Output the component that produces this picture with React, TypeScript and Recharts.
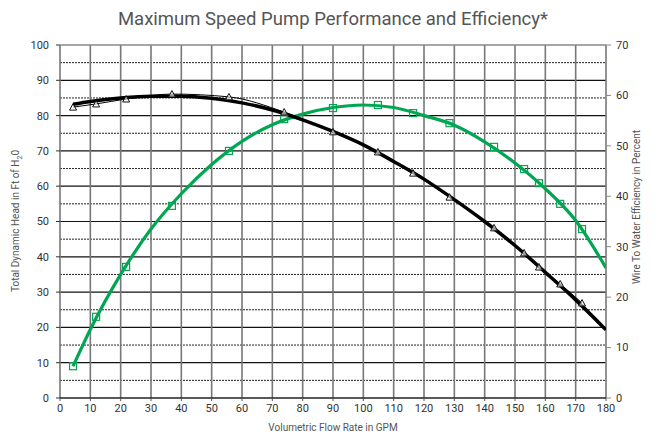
import { ComposedChart, Line, Scatter, XAxis, YAxis, ReferenceLine, Label } from "recharts";

// measured test points
const flowGpm = [4.3, 11.9, 21.8, 36.9, 55.7, 73.9, 90, 104.8, 116.4, 128.4, 143.1, 153, 157.9, 164.9, 172.1];
const headFt = [82.4, 83.3, 84.7, 86.1, 85.3, 81.0, 75.4, 69.7, 63.7, 56.9, 48.2, 41.1, 37.1, 32.3, 26.9];
const efficiencyPct = [6.3, 16.1, 26.0, 38.1, 49.0, 55.3, 57.5, 58.1, 56.5, 54.5, 49.8, 45.4, 42.6, 38.5, 33.5];

// fitted trend curves
const curveFlow = [4.3, 10, 20, 30, 40, 50, 60, 70, 80, 90, 100, 110, 120, 130, 140, 150, 160, 170, 180];
const headCurve = [83.2, 84.0, 85.0, 85.5, 85.5, 84.9, 83.6, 81.6, 78.8, 75.5, 71.7, 67.0, 62.0, 56.2, 50.0, 43.2, 35.6, 27.8, 19.3];
const effCurve = [6.3, 13.6, 24.5, 33.5, 40.5, 46.3, 50.9, 54.2, 56.3, 57.6, 58.1, 57.6, 56.0, 54.1, 50.8, 46.6, 41.5, 35.2, 25.8];

const xTicks = [0, 10, 20, 30, 40, 50, 60, 70, 80, 90, 100, 110, 120, 130, 140, 150, 160, 170, 180];
const headTicks = [0, 10, 20, 30, 40, 50, 60, 70, 80, 90, 100];
const headMinor = [5, 15, 25, 35, 45, 55, 65, 75, 85, 95];
const effTicks = [0, 10, 20, 30, 40, 50, 60, 70];

const GREEN = "#00a651";
const FONT = "Roboto, 'Open Sans', sans-serif";

const headPoints = flowGpm.map((x, i) => ({ x, y: headFt[i] }));
const effPoints = flowGpm.map((x, i) => ({ x, y: efficiencyPct[i] }));
const headLine = curveFlow.map((x, i) => ({ x, y: headCurve[i] }));
const effLine = curveFlow.map((x, i) => ({ x, y: effCurve[i] }));

const Triangle = (props: any) => {
  const { cx, cy } = props;
  return (
    <polygon
      points={`${cx - 3.5},${cy + 3} ${cx + 3.5},${cy + 3} ${cx},${cy - 3.5}`}
      fill="#fff"
      fillOpacity={0.6}
      stroke="#111"
      strokeWidth={1}
    />
  );
};

const Square = (props: any) => {
  const { cx, cy } = props;
  return <rect x={cx - 3.5} y={cy - 3.5} width={7} height={7} fill="none" stroke={GREEN} strokeWidth={1.2} />;
};

const tickStyle = { fill: "#333", fontSize: 11, fontFamily: FONT };

export default function App() {
  return (
    <div style={{ position: "absolute", left: 0, top: 0, width: 661, height: 435, background: "#fff" }}>
      <ComposedChart width={661} height={435} margin={{ top: 45, right: 0, bottom: 0, left: 0 }}>
        <text x={333} y={25} textAnchor="middle" fontFamily={FONT} fontSize={18.5} fill="#555">
          Maximum Speed Pump Performance and Efficiency*
        </text>
        <XAxis
          type="number"
          dataKey="x"
          domain={[0, 180]}
          ticks={xTicks}
          allowDataOverflow
          height={37}
          tickSize={3}
          tickMargin={3}
          tick={tickStyle}
          axisLine={false}
          tickLine={{ stroke: "#555" }}
        >
          <Label
            content={() => (
              <text x={333} y={431} textAnchor="middle" fontFamily={FONT} fontSize={10} fill="#555">
                Volumetric Flow Rate in GPM
              </text>
            )}
          />
        </XAxis>
        <YAxis
          yAxisId="head"
          type="number"
          domain={[0, 100]}
          ticks={headTicks}
          width={60}
          tickSize={4}
          tickMargin={7}
          tick={tickStyle}
          axisLine={false}
          tickLine={{ stroke: "#333" }}
        >
          <Label
            content={() => (
              <text
                x={19}
                y={221}
                transform="rotate(-90 19 221)"
                textAnchor="middle"
                fontFamily={FONT}
                fontSize={10}
                fill="#555"
              >
                Total Dynamic Head in Ft of H
                <tspan dy={3} fontSize={7}>2</tspan>
                <tspan dy={-3}>0</tspan>
              </text>
            )}
          />
        </YAxis>
        <YAxis
          yAxisId="eff"
          orientation="right"
          type="number"
          domain={[0, 70]}
          ticks={effTicks}
          width={55}
          tickSize={5}
          tickMargin={5}
          tick={tickStyle}
          axisLine={false}
          tickLine={{ stroke: "#888" }}
        >
          <Label
            content={() => (
              <text
                x={640}
                y={207}
                transform="rotate(-90 640 207)"
                textAnchor="middle"
                fontFamily={FONT}
                fontSize={10}
                fill="#555"
              >
                Wire To Water Efficiency in Percent
              </text>
            )}
          />
        </YAxis>

        {headMinor.map((v) => (
          <ReferenceLine key={`m${v}`} yAxisId="head" y={v} stroke="#222" strokeWidth={1} strokeDasharray="2 1" />
        ))}
        {headTicks.slice(1, -1).map((v) => (
          <ReferenceLine key={`h${v}`} yAxisId="head" y={v} stroke="#111" strokeWidth={1.2} />
        ))}
        {xTicks.map((v) => (
          <ReferenceLine key={`v${v}`} yAxisId="head" x={v} stroke="#777" strokeWidth={1.6} />
        ))}
        <ReferenceLine yAxisId="head" y={100} stroke="#888" strokeWidth={1.6} />
        <ReferenceLine yAxisId="head" y={0} stroke="#222" strokeWidth={1.4} />

        <Line
          data={effLine}
          yAxisId="eff"
          dataKey="y"
          type="monotone"
          stroke={GREEN}
          strokeWidth={3.2}
          dot={false}
          isAnimationActive={false}
        />
        <Line
          data={headLine}
          yAxisId="head"
          dataKey="y"
          type="monotone"
          stroke="#000"
          strokeWidth={3.5}
          dot={false}
          isAnimationActive={false}
        />
        <Line
          data={headPoints}
          yAxisId="head"
          dataKey="y"
          type="monotone"
          stroke="#000"
          strokeWidth={1}
          dot={false}
          isAnimationActive={false}
        />
        <Scatter data={effPoints} yAxisId="eff" dataKey="y" shape={Square} isAnimationActive={false} />
        <Scatter data={headPoints} yAxisId="head" dataKey="y" shape={Triangle} isAnimationActive={false} />
      </ComposedChart>
    </div>
  );
}
